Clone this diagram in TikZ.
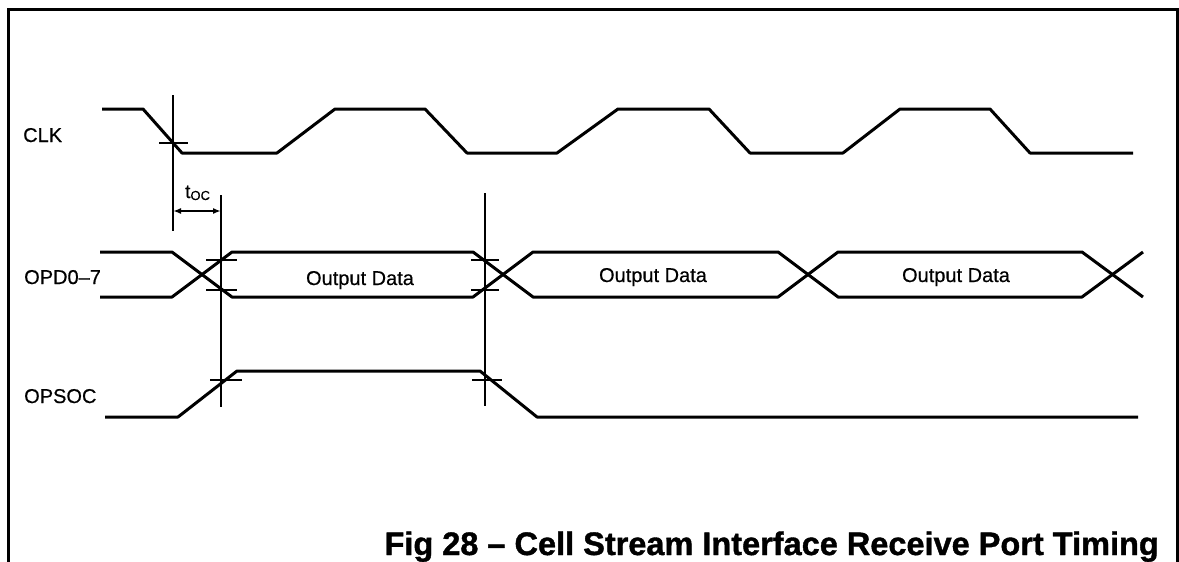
\documentclass[tikz,border=0pt]{standalone}
\usepackage{fontspec}
\setmainfont{Liberation Sans}
\newfontfamily\heavysans[FakeBold=1.2]{Liberation Sans}
\newfontfamily\labelsans[FakeBold=0.5]{Liberation Sans}
\usetikzlibrary{arrows.meta}
\begin{document}
\begin{tikzpicture}[x=1pt,y=-1pt,
  frame/.style={line width=3pt},
  signal/.style={line width=3pt, line join=round},
  guide/.style={line width=1.3pt},
  tickmark/.style={line width=1.8pt},
  dim/.style={line width=1.8pt, {Latex[length=8pt,width=6pt]}-{Latex[length=8pt,width=6pt]}},
  siglabel/.style={font=\labelsans\fontsize{20}{24}\selectfont, inner sep=0pt, anchor=base west},
  datalabel/.style={font=\labelsans\fontsize{20}{24}\selectfont, inner sep=0pt, anchor=base},
  caption/.style={font=\heavysans\fontsize{32.5}{38}\selectfont\bfseries, inner sep=0pt, anchor=base east}
]
\useasboundingbox (0,0) rectangle (1179,562);

% open frame
\draw[frame] (8,562) -- (8,9) -- (1177,9) -- (1177,562);

% signal names
\node[siglabel] (lclk) at (23,142) {CLK};
\node[siglabel] (lopd) at (24,284) {OPD0–7};
\node[siglabel] (lsoc) at (24,403) {OPSOC};

% CLK
\draw[signal] (102,109) -- (143,109) -- (182,153) -- (277,153) -- (335,109)
  -- (425,109) -- (467,153) -- (557,153) -- (618,109) -- (709,109)
  -- (750,153) -- (843,153) -- (900,109) -- (990,109) -- (1030,153) -- (1133,153);

% OPD0-7 data bus
\draw[signal] (100,252) -- (172,252) -- (232,297) -- (473,297) -- (533,252)
  -- (778,252) -- (838,297) -- (1082,297) -- (1143,252);
\draw[signal] (100,297) -- (172,297) -- (232,252) -- (473,252) -- (533,297)
  -- (778,297) -- (838,252) -- (1082,252) -- (1143,297);
\node[datalabel] (d1) at (360,285) {Output Data};
\node[datalabel] (d2) at (653,282) {Output Data};
\node[datalabel] (d3) at (956,282) {Output Data};

% OPSOC
\draw[signal] (105,417) -- (178,417) -- (237,371) -- (480,371) -- (537,417) -- (1138,417);

% reference lines
\coordinate (g1t) at (173,95);  \coordinate (g1b) at (173,231);
\coordinate (g2t) at (221,195); \coordinate (g2b) at (221,407);
\coordinate (g3t) at (485,193); \coordinate (g3b) at (485,406);
\draw[guide] (g1t) -- (g1b);
\draw[guide] (g2t) -- (g2b);
\draw[guide] (g3t) -- (g3b);

% crossing marks
\draw[tickmark] (159,143) -- (188,143);
\draw[tickmark] (206,260) -- (237,260);
\draw[tickmark] (206,290) -- (237,290);
\draw[tickmark] (210,380) -- (242,380);
\draw[tickmark] (471,260) -- (499,260);
\draw[tickmark] (471,290) -- (499,290);
\draw[tickmark] (472,380) -- (502,380);

% t_OC delay
\coordinate (a1) at (173,211);
\coordinate (a2) at (221,211);
\draw[dim] (a1) -- (a2);
\node[inner sep=0pt, anchor=base west, font=\labelsans\fontsize{19}{22}\selectfont] (toc) at (185,198)
  {t\raisebox{-2pt}{\fontsize{13}{15}\selectfont OC}};

% caption
\node[caption] (cap) at (1159,555) {Fig 28 – Cell Stream Interface Receive Port Timing};
\end{tikzpicture}
\end{document}
